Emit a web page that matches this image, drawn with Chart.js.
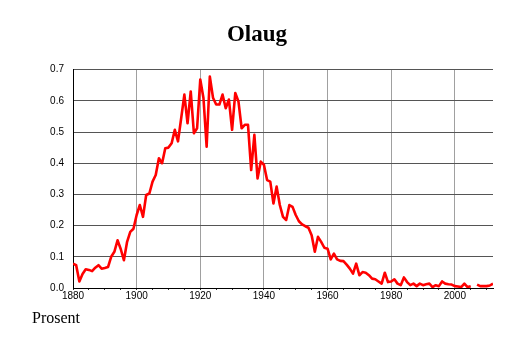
<!DOCTYPE html>
<html>
<head>
<meta charset="utf-8">
<script src="https://cdn.jsdelivr.net/npm/chart.js@4"></script>
<style>
html,body{margin:0;padding:0;background:#fff;}
#wrap{position:relative;width:514px;height:343px;}
</style>
</head>
<body>
<div id="wrap"><canvas id="c"></canvas></div>
<script>
const chartTitle = "Olaug";
const unitLabel = "Prosent";
const years = [
1880,1881,1882,1883,1884,1885,1886,1887,1888,1889,
1890,1891,1892,1893,1894,1895,1896,1897,1898,1899,
1900,1901,1902,1903,1904,1905,1906,1907,1908,1909,
1910,1911,1912,1913,1914,1915,1916,1917,1918,1919,
1920,1921,1922,1923,1924,1925,1926,1927,1928,1929,
1930,1931,1932,1933,1934,1935,1936,1937,1938,1939,
1940,1941,1942,1943,1944,1945,1946,1947,1948,1949,
1950,1951,1952,1953,1954,1955,1956,1957,1958,1959,
1960,1961,1962,1963,1964,1965,1966,1967,1968,1969,
1970,1971,1972,1973,1974,1975,1976,1977,1978,1979,
1980,1981,1982,1983,1984,1985,1986,1987,1988,1989,
1990,1991,1992,1993,1994,1995,1996,1997,1998,1999,
2000,2001,2002,2003,2004,2005,2006,2007,2008,2009,
2010,2011,2012];
const percent = [
0.078,0.073,0.021,0.045,0.060,0.058,0.054,0.065,0.073,0.062,
0.064,0.067,0.100,0.116,0.153,0.125,0.089,0.148,0.180,0.190,
0.234,0.266,0.228,0.298,0.303,0.341,0.362,0.416,0.400,0.448,
0.450,0.464,0.507,0.470,0.544,0.620,0.528,0.630,0.496,0.512,
0.668,0.609,0.453,0.678,0.610,0.588,0.588,0.620,0.576,0.604,
0.507,0.625,0.598,0.512,0.523,0.523,0.378,0.491,0.351,0.405,
0.395,0.346,0.341,0.271,0.325,0.266,0.228,0.218,0.266,0.260,
0.234,0.214,0.204,0.198,0.193,0.169,0.116,0.164,0.148,0.129,
0.126,0.092,0.110,0.092,0.087,0.086,0.075,0.062,0.046,0.078,
0.041,0.051,0.049,0.041,0.030,0.028,0.021,0.014,0.049,0.019,
0.021,0.028,0.014,0.009,0.034,0.019,0.009,0.014,0.006,0.014,
0.009,0.012,0.014,0.003,0.009,0.006,0.021,0.014,0.012,0.011,
0.006,0.005,0.003,0.014,0.003,0.006,null,0.011,0.006,0.006,
0.006,0.008,0.014];
const xTickYears = [1880,1885,1890,1895,1900,1905,1910,1915,1920,1925,1930,1935,1940,1945,1950,1955,1960,1965,1970,1975,1980,1985,1990,1995,2000,2005,2010];
const xLabelYears = [1880,1900,1920,1940,1960,1980,2000];
const yTickValues = [0,0.1,0.2,0.3,0.4,0.5,0.6,0.7];

const points = years.map((y,i)=>({x:y,y:percent[i]}));

new Chart(document.getElementById('c'), {
  type: 'line',
  data: { datasets: [{
    data: points,
    borderColor: '#ff0000',
    borderWidth: 2.6,
    pointRadius: 0,
    tension: 0,
    spanGaps: false,
    borderJoinStyle: 'round',
    fill: false
  }]},
  options: {
    responsive: true,
    maintainAspectRatio: false,
    animation: false,
    layout: { padding: { left: 21, right: 21, top: 0, bottom: 6 } },
    plugins: {
      title: {
        display: true, text: chartTitle, color: '#000',
        font: { family: '"Liberation Serif","Times New Roman",serif', size: 23, weight: 'bold', lineHeight: 1.2 },
        padding: { top: 21, bottom: 21 }
      },
      legend: {
        display: true, position: 'bottom', align: 'start',
        onClick: null,
        labels: {
          color: '#000', boxWidth: 0, boxHeight: 0, padding: 3,
          font: { family: '"Liberation Serif","Times New Roman",serif', size: 16 },
          generateLabels: () => [{ text: unitLabel, fillStyle: 'rgba(0,0,0,0)', strokeStyle: 'rgba(0,0,0,0)', lineWidth: 0, hidden: false, fontColor: '#000' }]
        }
      },
      tooltip: { enabled: false }
    },
    scales: {
      x: {
        type: 'linear', min: 1880, max: 2012,
        afterBuildTicks: (s) => { s.ticks = xTickYears.map(v => ({ value: v })); },
        afterFit: (s) => { s.height = 20; },
        ticks: {
          autoSkip: false, maxRotation: 0, padding: 0, color: '#000',
          font: { family: '"Liberation Sans",Arial,sans-serif', size: 10 },
          callback: (v) => xLabelYears.includes(v) ? String(v) : ''
        },
        grid: {
          color: (ctx) => (ctx.tick && xLabelYears.includes(ctx.tick.value)) ? '#a0a0a0' : 'rgba(0,0,0,0)',
          lineWidth: 1, drawTicks: true, tickLength: 2, tickColor: '#333'
        },
        border: { display: true, color: '#000', width: 1 }
      },
      y: {
        min: 0, max: 0.7,
        afterBuildTicks: (s) => { s.ticks = yTickValues.map(v => ({ value: v })); },
        afterFit: (s) => { s.width = 52; },
        ticks: {
          padding: 9, color: '#000',
          font: { family: '"Liberation Sans",Arial,sans-serif', size: 10 },
          callback: (v) => Number(v).toFixed(1)
        },
        grid: { color: '#555', lineWidth: 1, drawTicks: false },
        border: { display: true, color: '#000', width: 1 }
      }
    }
  }
});
</script>
</body>
</html>
